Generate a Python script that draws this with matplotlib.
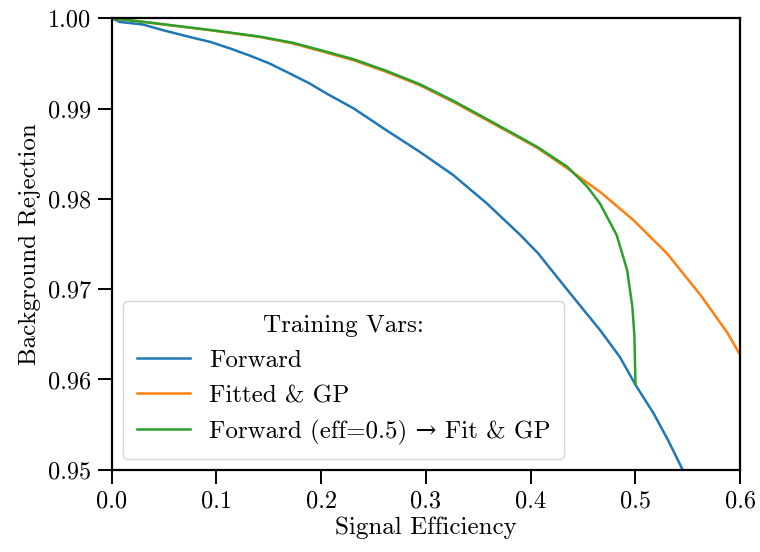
import matplotlib
matplotlib.use('Agg')
import matplotlib.pyplot as plt

plt.rcParams['font.family'] = ['cmr10', 'DejaVu Serif']
plt.rcParams['mathtext.fontset'] = 'cm'
plt.rcParams['axes.formatter.use_mathtext'] = True

# ROC curves
fwd_eff = [0.0, 0.0076, 0.030, 0.049, 0.078, 0.094, 0.113, 0.132, 0.151, 0.170, 0.189, 0.206,
           0.231, 0.262, 0.294, 0.326, 0.358, 0.390, 0.407, 0.435, 0.466, 0.485, 0.492,
           0.5, 0.517, 0.531, 0.545]
fwd_rej = [1.0, 0.99959, 0.99930, 0.99867, 0.99782, 0.99738, 0.99665, 0.99585, 0.99497, 0.99388,
           0.99277, 0.99160, 0.99001, 0.98761, 0.98521, 0.98263, 0.97950, 0.97600, 0.97397,
           0.96991, 0.96549, 0.9625, 0.96106, 0.9594, 0.9563, 0.9533, 0.950]

fit_eff = [0.0, 0.030, 0.094, 0.141, 0.173, 0.199, 0.231, 0.262, 0.294, 0.326, 0.358, 0.390,
           0.407, 0.435, 0.466, 0.498, 0.530, 0.562, 0.588, 0.6]
fit_rej = [1.0, 0.99959, 0.99867, 0.99793, 0.99720, 0.99638, 0.99535, 0.99406, 0.99259, 0.99074,
           0.98872, 0.98669, 0.98559, 0.98337, 0.98079, 0.97765, 0.97397, 0.96936, 0.96512, 0.9627]

comb_eff = [0.0, 0.030, 0.094, 0.141, 0.173, 0.199, 0.231, 0.262, 0.294, 0.326, 0.358, 0.390,
            0.407, 0.435, 0.454, 0.466, 0.482, 0.492, 0.497, 0.499, 0.4998, 0.5]
comb_rej = [1.0, 0.99960, 0.99870, 0.99797, 0.99728, 0.99648, 0.99545, 0.99418, 0.99270, 0.99086,
            0.98884, 0.98680, 0.98569, 0.98355, 0.98134, 0.9795, 0.9760, 0.97212, 0.96806, 0.96475,
            0.96032, 0.9595]

labels = ['Forward', 'Fitted & GP', 'Forward (eff=0.5) \u2192 Fit & GP']

fig = plt.figure(figsize=(7.6, 5.52), dpi=100)
ax = fig.add_axes([0.147, 0.149, 0.827, 0.818])

ax.plot(fwd_eff, fwd_rej, color='#1f77b4', lw=1.8, label=labels[0])
ax.plot(fit_eff, fit_rej, color='#ff7f0e', lw=1.8, label=labels[1])
ax.plot(comb_eff, comb_rej, color='#2ca02c', lw=1.8, label=labels[2])

ax.set_xlim(0, 0.6)
ax.set_ylim(0.95, 1.0)
ax.set_xticks([0.0, 0.1, 0.2, 0.3, 0.4, 0.5, 0.6])
ax.set_yticks([0.95, 0.96, 0.97, 0.98, 0.99, 1.00])
ax.set_xticklabels(['0.0', '0.1', '0.2', '0.3', '0.4', '0.5', '0.6'])
ax.set_yticklabels(['0.95', '0.96', '0.97', '0.98', '0.99', '1.00'])
ax.tick_params(labelsize=17.5, length=10, width=1.4, direction='out', pad=5)
for s in ax.spines.values():
    s.set_linewidth(1.6)

ax.set_xlabel('Signal Efficiency', fontsize=18, labelpad=3)
ax.set_ylabel('Background Rejection', fontsize=18, labelpad=5)

leg = ax.legend(title='Training Vars:', loc='lower left', fontsize=18,
                title_fontsize=18, borderaxespad=0.45, borderpad=0.55, fancybox=True,
                handlelength=2.15, handletextpad=0.75, labelspacing=0.5)

fig.savefig('out.png', dpi=100)
